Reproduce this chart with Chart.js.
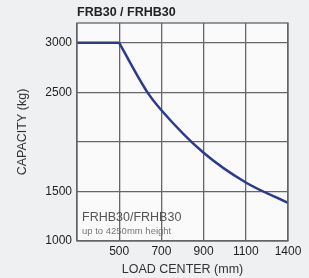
<!DOCTYPE html>
<html>
<head>
<meta charset="utf-8">
<script src="https://cdn.jsdelivr.net/npm/chart.js@4.4.0/dist/chart.umd.min.js"></script>
<style>
  html, body { margin: 0; padding: 0; background: #eef0f2; }
  #wrap { width: 309px; height: 278px; }
</style>
</head>
<body>
<div id="wrap"><canvas id="cap"></canvas></div>
<script>
// load center tick labels, one per vertical grid line (first one unlabeled)
var loadCenters = ["", "500", "700", "900", "1100", "1400"];
// flat part of the curve (grid index -> kg)
var flatIdx = [0, 1];
var flatCap = [3000, 3000];
// falling part (grid lines + the 2500 crossing)
var curveIdx = [1, 1.67, 2, 3, 4, 5];
var curveCap = [3000, 2500, 2320, 1890, 1590, 1385];
var yTicks = [1000, 1500, 2000, 2500, 3000];
var yLabels = [1000, 1500, 2500, 3000];

var lineColor = "#2b3a8c";
var font = "'Liberation Sans', Arial, sans-serif";

function pts(xs, ys) {
  return xs.map((x, i) => ({ x: x, y: ys[i] }));
}

const extras = {
  id: "extras",
  beforeDraw(chart) {
    const { ctx, chartArea: a } = chart;
    ctx.save();
    ctx.fillStyle = "#fafafa";
    ctx.fillRect(a.left, a.top, a.right - a.left, a.bottom - a.top);
    ctx.restore();
  },
  afterDraw(chart) {
    const { ctx, chartArea: a } = chart;
    ctx.save();
    ctx.strokeStyle = "#666";
    ctx.lineWidth = 1.3;
    ctx.strokeRect(a.left, a.top, a.right - a.left, a.bottom - a.top);
    ctx.fillStyle = "#222";
    ctx.font = "bold 12.5px " + font;
    ctx.textBaseline = "middle";
    ctx.fillText("FRB30 / FRHB30", a.left, 13);
    ctx.fillStyle = "#555";
    ctx.font = "12.5px " + font;
    ctx.fillText("FRHB30/FRHB30", a.left + 5, a.bottom - 23);
    ctx.fillStyle = "#777";
    ctx.font = "9.5px " + font;
    ctx.fillText("up to 4250mm height", a.left + 5, a.bottom - 10);
    ctx.restore();
  }
};

new Chart(document.getElementById("cap"), {
  type: "line",
  data: {
    datasets: [
      {
        data: pts(flatIdx, flatCap),
        borderColor: lineColor,
        borderWidth: 2.5,
        pointRadius: 0,
        tension: 0
      },
      {
        data: pts(curveIdx, curveCap),
        borderColor: lineColor,
        borderWidth: 2.5,
        pointRadius: 0,
        cubicInterpolationMode: "monotone"
      }
    ]
  },
  options: {
    responsive: true,
    maintainAspectRatio: false,
    animation: false,
    layout: { padding: { left: 0, right: 21, top: 23, bottom: 0 } },
    plugins: {
      legend: { display: false },
      tooltip: { enabled: false }
    },
    scales: {
      x: {
        type: "linear",
        min: 0,
        max: 5,
        afterBuildTicks: (s) => { s.ticks = loadCenters.map((l, i) => ({ value: i })); },
        afterFit: (s) => { s.height = 37; },
        grid: { color: "#666", lineWidth: 1.3, drawTicks: false },
        border: { display: false },
        ticks: {
          padding: 3,
          color: "#1e1e1e",
          font: { family: font, size: 12 },
          callback: (v) => loadCenters[v]
        },
        title: {
          display: true,
          text: "LOAD CENTER (mm)",
          color: "#333",
          font: { family: font, size: 12.5 },
          padding: { top: 0, bottom: 1 }
        }
      },
      y: {
        min: 1000,
        max: 3200,
        afterBuildTicks: (s) => { s.ticks = yTicks.map((v) => ({ value: v })); },
        afterFit: (s) => { s.width = 77; },
        grid: { color: "#666", lineWidth: 1.3, drawTicks: false },
        border: { display: false },
        ticks: {
          padding: 5,
          color: "#1e1e1e",
          font: { family: font, size: 12 },
          callback: (v) => (yLabels.indexOf(v) >= 0 ? String(v) : "")
        },
        title: {
          display: true,
          text: "CAPACITY (kg)",
          color: "#333",
          font: { family: font, size: 12.5 },
          padding: { top: 15, bottom: 0 }
        }
      }
    }
  },
  plugins: [extras]
});
</script>
</body>
</html>
